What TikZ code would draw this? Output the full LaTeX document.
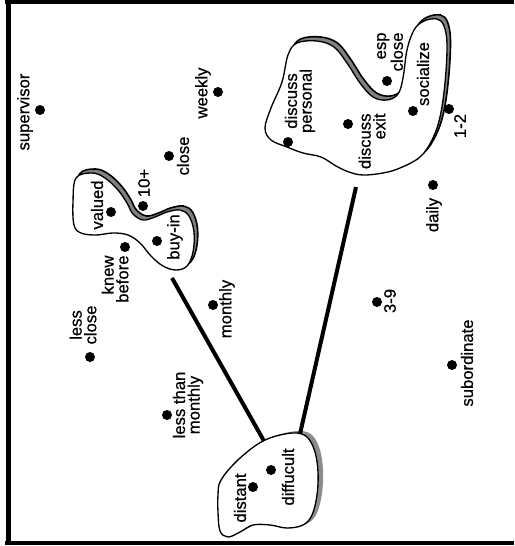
\documentclass[tikz,border=0pt]{standalone}
\usepackage{fontspec}
\setmainfont[FakeBold=0.6]{Liberation Sans}
\tikzset{every picture/.style={line width=0.75pt}}
\tikzset{
  spot/.style={circle,fill=black,inner sep=0pt,minimum size=7.5pt},
  lbl/.style={rotate=90,inner sep=0.75pt,font=\fontsize{12.5}{11}\selectfont,align=center},
  lblr/.style={lbl,align=right,anchor=east},
  blob/.style={draw=black,fill=white,line width=1pt},
  blobshade/.style={fill=black!50,draw=black,line width=1.2pt},
  blobdots/.style={fill=black!45},
  link/.style={line width=3pt},
  frameline/.style={line width=3pt}
}

\begin{document}
\begin{tikzpicture}[x=0.75pt,y=0.75pt,yscale=-1,xscale=1]
\useasboundingbox (0,0) rectangle (514,546);

%Frame
\draw[frameline] (5,2) -- (514,2);
\draw[frameline,line width=3.75pt] (8.5,1) -- (8.5,545);
\draw[frameline] (5,543) -- (514,543);

%Shape: blob valued / buy-in
\draw[blobshade,shift={(3.5,-4)}] plot[smooth cycle,tension=0.6] coordinates {(76,178) (92,173) (105,178) (118,190) (127,203) (133,214) (143,220) (155,217) (167,212) (180,210) (189,216) (194,232) (193,252) (187,266) (176,270) (163,266) (151,256) (140,243) (128,235) (113,233) (96,235) (81,233) (74,225) (73,202)};
\draw[blob] plot[smooth cycle,tension=0.6] coordinates {(76,178) (92,173) (105,178) (118,190) (127,203) (133,214) (143,220) (155,217) (167,212) (180,210) (189,216) (194,232) (193,252) (187,266) (176,270) (163,266) (151,256) (140,243) (128,235) (113,233) (96,235) (81,233) (74,225) (73,202)};

%Shape: blob discuss / socialize
\draw[blobshade,shift={(3.5,-4)}] plot[smooth cycle,tension=0.6] coordinates {(265,128) (271,108) (282,82) (288,55) (297,43) (317,41) (334,47) (347,63) (360,83) (373,97) (387,100) (398,94) (403,78) (407,50) (414,30) (424,21) (437,19) (444,26) (447,45) (445,83) (440,117) (432,140) (420,157) (400,168) (383,173) (363,175) (349,172) (336,166) (321,157) (303,153) (287,147) (271,140)};
\draw[blob] plot[smooth cycle,tension=0.6] coordinates {(265,128) (271,108) (282,82) (288,55) (297,43) (317,41) (334,47) (347,63) (360,83) (373,97) (387,100) (398,94) (403,78) (407,50) (414,30) (424,21) (437,19) (444,26) (447,45) (445,83) (440,117) (432,140) (420,157) (400,168) (383,173) (363,175) (349,172) (336,166) (321,157) (303,153) (287,147) (271,140)};

%Shape: blob distant / diffucult
\fill[blobdots,shift={(5,-2)}] plot[smooth cycle,tension=0.6] coordinates {(220,482) (231,467) (247,452) (263,441) (280,435) (297,433) (308,438) (315,452) (318,472) (317,495) (312,515) (303,525) (287,528) (270,525) (253,525) (240,532) (228,537) (220,531) (218,512) (218,495)};
\draw[blob] plot[smooth cycle,tension=0.6] coordinates {(220,482) (231,467) (247,452) (263,441) (280,435) (297,433) (308,438) (315,452) (318,472) (317,495) (312,515) (303,525) (287,528) (270,525) (253,525) (240,532) (228,537) (220,531) (218,512) (218,495)};

%Straight Lines
\coordinate (linkA) at (172,278);
\coordinate (linkB) at (356,187);
\coordinate (linkAend) at (264,441);
\coordinate (linkBend) at (300,434);
\draw[link] (linkA) -- (linkAend);
\draw[link] (linkB) -- (linkBend);

%Dots
\node[spot] (supervisor) at (40,110) {};
\node[spot] (weekly) at (218,92) {};
\node[spot] (close) at (169,156) {};
\node[spot] (valued) at (111,212) {};
\node[spot] (tenplus) at (143,206) {};
\node[spot] (buyin) at (157,241) {};
\node[spot] (knew) at (125,247) {};
\node[spot] (lessclose) at (90,357) {};
\node[spot] (monthly) at (213,305) {};
\node[spot] (lessmonthly) at (167,415) {};
\node[spot] (distant) at (253,487) {};
\node[spot] (difficult) at (271,470) {};
\node[spot] (threenine) at (377,302) {};
\node[spot] (subordinate) at (452,365) {};
\node[spot] (daily) at (433,185) {};
\node[spot] (onetwo) at (449,109) {};
\node[spot] (socialize) at (413,111) {};
\node[spot] (espclose) at (387,81) {};
\node[spot] (exit) at (348,124) {};
\node[spot] (personal) at (288,142) {};

% Text Node
\node[lbl] (supervisorL) at (25,112) {supervisor};
\node[lbl] (weeklyL) at (203,93) {weekly};
\node[lbl] (closeL) at (183,156) {close};
\node[lbl] (valuedL) at (97,205) {valued};
\node[lbl] (tenplusL) at (144,183) {10+};
\node[lbl] (buyinL) at (175,237) {buy-in};
\node[lblr] (knewL) at (115,254) {knew\\before};
\node[lbl] (lesscloseL) at (83,325) {less\\close};
\node[lbl] (monthlyL) at (227,309) {monthly};
\node[lbl] (lessmonthlyL) at (188,405) {less than\\monthly};
\node[lbl] (distantL) at (240,498) {distant};
\node[lbl] (difficultL) at (288,477) {diffucult};
\node[lbl] (threenineL) at (390,301) {3-9};
\node[lbl] (subordinateL) at (467,363) {subordinate};
\node[lbl] (dailyL) at (434,215) {daily};
\node[lbl] (onetwoL) at (460,126) {1-2};
\node[lbl] (socializeL) at (423,74) {socialize};
\node[lblr] (espcloseL) at (390,31) {esp\\close};
\node[lblr] (exitL) at (372,112) {discuss\\exit};
\node[lbl] (personalL) at (300,101) {discuss\\personal};

\end{tikzpicture}
\end{document}
